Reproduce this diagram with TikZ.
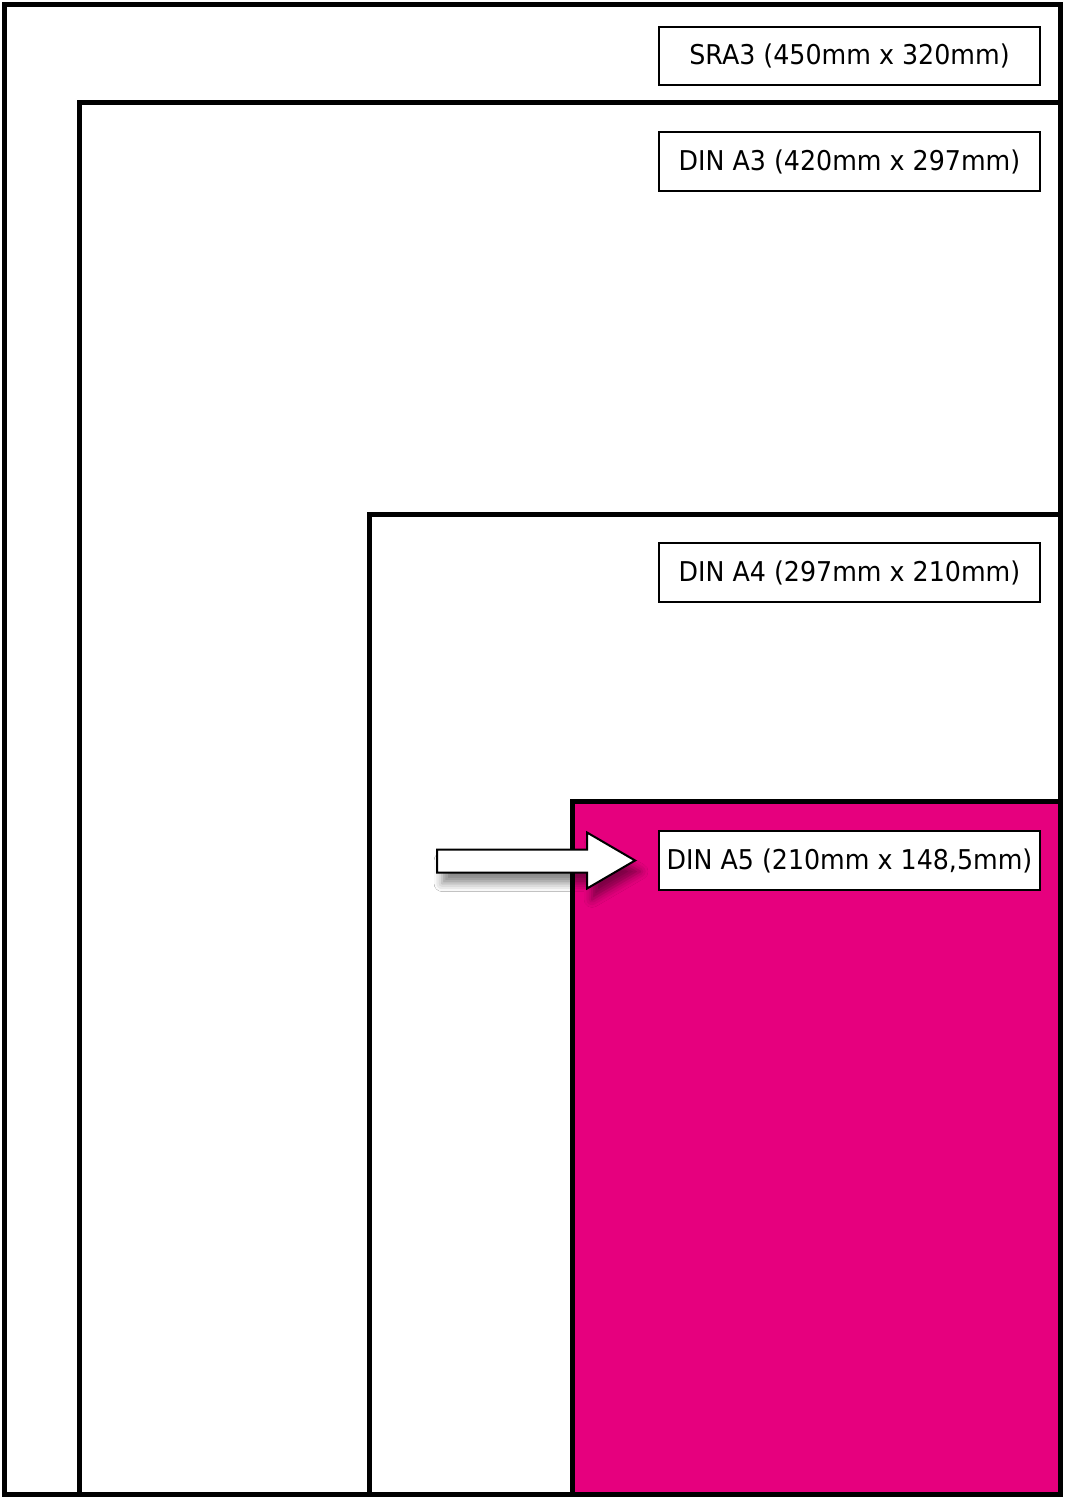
\documentclass[tikz,border=0pt]{standalone}
\usepackage{fontspec}
\setmainfont{DejaVu Sans}[FakeStretch=0.93]
\usetikzlibrary{positioning,shadows.blur}
\definecolor{pinkA}{HTML}{E6007E}
\tikzstyle{sheet}=[draw=black,line width=0.1cm]
\tikzstyle{sizelabel}=[rectangle,draw=black,fill=white,line width=0.04cm,minimum width=7.62cm,minimum height=1.18cm,inner sep=0pt,font=\fontsize{15.5}{18}\selectfont]
\tikzstyle{pointer}=[draw=black,fill=white,line width=0.04cm,line join=miter,blur shadow={shadow xshift=0.1cm,shadow yshift=-0.22cm,shadow blur radius=0.16cm,shadow opacity=45}]

\begin{document}
\begin{tikzpicture}[x=0.02cm,y=-0.02cm]
	\useasboundingbox (0,0) rectangle (1067,1500);
	
	% paper sheets, largest first
	\draw[sheet,fill=white] (4.5,5) rectangle (1060,1494);
	\draw[sheet] (79.5,102.5) rectangle (1060,1494);
	\draw[sheet] (369,514) rectangle (1060,1494);
	\draw[sheet,fill=pinkA] (572,801) rectangle (1060,1494);
	
	% size labels
	\node[sizelabel] (lblsra) at (849.5,56) {SRA3 (450mm x 320mm)};
	\node[sizelabel] (lbla3) at (849.5,161.5) {DIN A3 (420mm x 297mm)};
	\node[sizelabel] (lbla4) at (849.5,572.5) {DIN A4 (297mm x 210mm)};
	\node[sizelabel] (lbla5) at (849.5,860.5) {DIN A5 (210mm x 148,5mm)};
	
	% arrow onto A5
	\coordinate[left=0.46cm of lbla5.west] (tip);
	\draw[pointer] (tip) -- ++(-48,-28) -- ++(0,17) -- ++(-150,0) -- ++(0,23) -- ++(150,0) -- ++(0,16) -- cycle;
\end{tikzpicture}
\end{document}
